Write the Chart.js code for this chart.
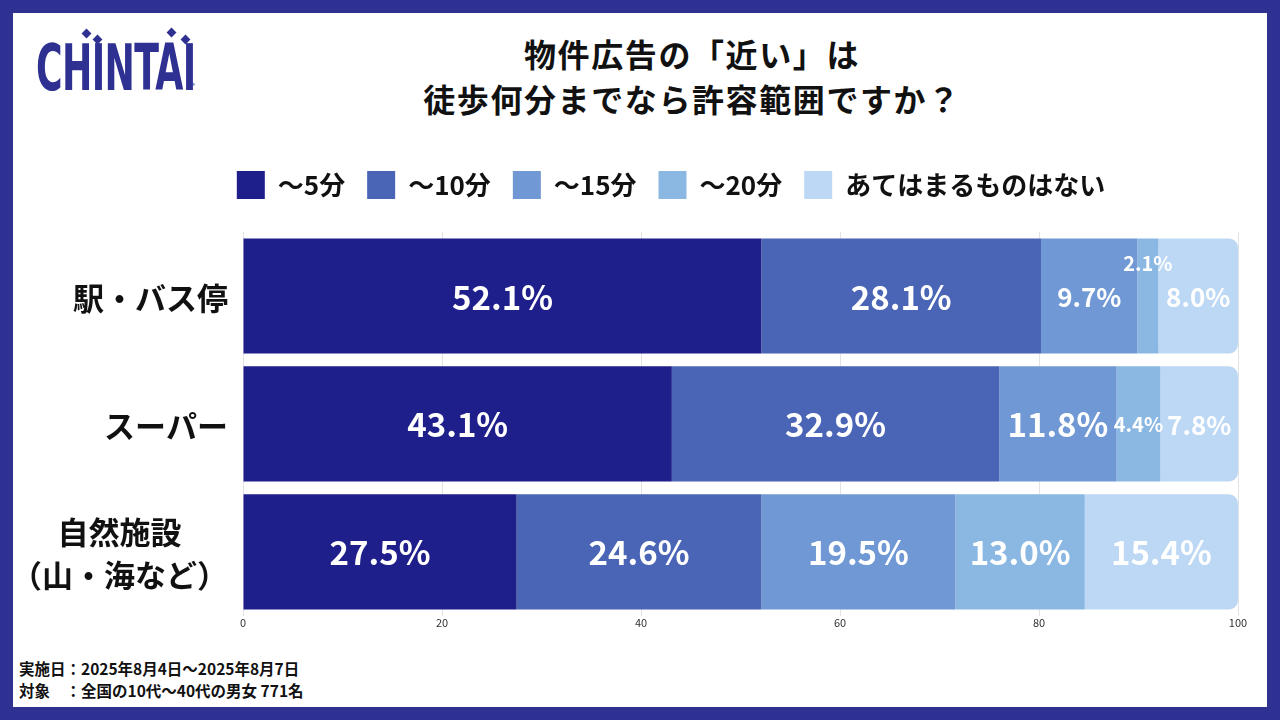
<!DOCTYPE html>
<html>
<head>
  <meta charset="utf-8"/>
  <script src="https://cdn.jsdelivr.net/npm/chart.js@4.4.1/dist/chart.umd.min.js"></script>
  <style>
    html, body {
      margin: 0;
      padding: 0;
    }
    body {
      position: relative;
      width: 1280px;
      height: 720px;
      box-sizing: border-box;
      border: 13px solid #2e3192;
      background: #ffffff;
      overflow: hidden;
      font-family: 'Noto Sans CJK JP', sans-serif;
      color: #111111;
    }
    #logo {
      position: absolute;
      left: 23px;
      top: 15px;
      width: 170px;
      height: 80px;
    }
    #logo .word {
      position: absolute;
      left: 0;
      top: 0;
      font-family: 'Liberation Sans Narrow', 'DejaVu Sans Condensed', sans-serif;
      font-weight: bold;
      font-size: 64px;
      line-height: 80px;
      color: #2e3192;
      transform: scaleX(0.63);
      transform-origin: left top;
      letter-spacing: -1px;
    }
    #logo .dot {
      position: absolute;
      width: 7px;
      height: 7px;
      background: #2e3192;
      transform: rotate(45deg);
    }
    #logo .reg {
      position: absolute;
      left: 156px;
      top: 53px;
      font-size: 6px;
      color: #2e3192;
    }
    #title {
      position: absolute;
      left: 379px;
      top: 18px;
      width: 600px;
      text-align: center;
      font-size: 32px;
      font-weight: bold;
      line-height: 45px;
      letter-spacing: 1.6px;
    }
    #wrap {
      position: absolute;
      left: 1px;
      top: 136px;
      width: 1236px;
      height: 484px;
    }
    #notes {
      position: absolute;
      left: 6px;
      top: 644px;
      font-size: 15.5px;
      font-weight: bold;
      line-height: 22px;
    }
  </style>
</head>
<body>
  <div id="logo">
    <div class="word">CHINTAI</div>
    <div class="dot" style="left:47px; top:2px;"></div>
    <div class="dot" style="left:58px; top:8px;"></div>
    <div class="dot" style="left:132px; top:1px;"></div>
    <div class="dot" style="left:146px; top:8px;"></div>
    <div class="reg">®</div>
  </div>
  <div id="title">物件広告の「近い」は<br>徒歩何分までなら許容範囲ですか？</div>
  <div id="wrap"><canvas id="chart"></canvas></div>
  <div id="notes">実施日：2025年8月4日〜2025年8月7日<br>対象　：全国の10代〜40代の男女 771名</div>
  <script>
    var categories = ["駅・バス停", "スーパー", ["自然施設", "（山・海など）"]];
    var seriesNames = ["〜5分", "〜10分", "〜15分", "〜20分", "あてはまるものはない"];
    var within5 = [52.1, 43.1, 27.5];
    var within10 = [28.1, 32.9, 24.6];
    var within15 = [9.7, 11.8, 19.5];
    var within20 = [2.1, 4.4, 13.0];
    var noneApply = [8.0, 7.8, 15.4];

    var seriesColors = ["#1f1f8b", "#4a65b5", "#6f98d4", "#8bb8e3", "#bdd8f5"];
    var seriesValues = [within5, within10, within15, within20, noneApply];

    Chart.defaults.font.family = "'Noto Sans CJK JP', sans-serif";

    // more room between the legend and the bars
    var legendGap = {
      id: "legendGap",
      beforeInit: function(chart) {
        var fit = chart.legend.fit;
        chart.legend.fit = function() {
          fit.call(this);
          this.height += 23;
        };
      }
    };

    // percentages written inside each segment, smaller when the segment is narrow
    var barLabels = {
      id: "barLabels",
      afterDatasetsDraw: function(chart) {
        var ctx = chart.ctx;
        ctx.save();
        ctx.fillStyle = "#ffffff";
        ctx.textAlign = "center";
        ctx.textBaseline = "middle";
        chart.data.datasets.forEach(function(ds, i) {
          chart.getDatasetMeta(i).data.forEach(function(bar, j) {
            var w = Math.abs(bar.x - bar.base);
            var size = w >= 110 ? 33 : (w >= 60 ? 26 : 20);
            var y = bar.y;
            if (w < 30) y = bar.y - bar.height / 2 + 24;
            ctx.font = "bold " + size + "px 'Noto Sans CJK JP'";
            ctx.fillText(ds.data[j].toFixed(1) + "%", (bar.x + bar.base) / 2, y + 1);
          });
        });
        ctx.restore();
      }
    };

    // category names: right edge on the axis, lines centred inside their block
    var categoryLabels = {
      id: "categoryLabels",
      afterDraw: function(chart) {
        var ctx = chart.ctx;
        var yScale = chart.scales.y;
        var right = chart.chartArea.left - 15;
        ctx.save();
        ctx.font = "bold 31px 'Noto Sans CJK JP'";
        ctx.fillStyle = "#111111";
        ctx.textAlign = "center";
        ctx.textBaseline = "middle";
        chart.data.labels.forEach(function(label, i) {
          var lines = [].concat(label);
          var widest = Math.max.apply(null, lines.map(function(l) { return ctx.measureText(l).width; }));
          var cx = right - widest / 2;
          var cy = yScale.getPixelForValue(i);
          lines.forEach(function(line, k) {
            ctx.fillText(line, cx, cy + 2 + (k - (lines.length - 1) / 2) * 43);
          });
        });
        ctx.restore();
      }
    };

    var datasets = seriesNames.map(function(name, i) {
      return {
        label: name,
        data: seriesValues[i],
        backgroundColor: seriesColors[i],
        borderWidth: 0,
        borderRadius: i == seriesNames.length - 1 ? 9 : 0,
        barPercentage: 0.9,
        categoryPercentage: 1.0
      };
    });

    new Chart(document.getElementById("chart"), {
      type: "bar",
      data: { labels: categories, datasets: datasets },
      plugins: [legendGap, barLabels, categoryLabels],
      options: {
        indexAxis: "y",
        responsive: true,
        maintainAspectRatio: false,
        animation: false,
        layout: { padding: { left: 90, right: 12, top: 0, bottom: 4 } },
        plugins: {
          legend: {
            position: "top",
            labels: {
              boxWidth: 28,
              boxHeight: 28,
              padding: 22,
              color: "#111111",
              font: { size: 26, weight: "bold" }
            }
          },
          tooltip: { enabled: false }
        },
        scales: {
          x: {
            stacked: true,
            min: 0,
            max: 100,
            ticks: { stepSize: 20, padding: 0, color: "#333333", font: { size: 11 } },
            grid: { color: "#e2e2e2", drawTicks: false },
            border: { display: false }
          },
          y: {
            stacked: true,
            ticks: { display: false },
            grid: { display: false },
            border: { display: false },
            afterFit: function(scale) { scale.width = 139; }
          }
        }
      }
    });
  </script>
</body>
</html>
